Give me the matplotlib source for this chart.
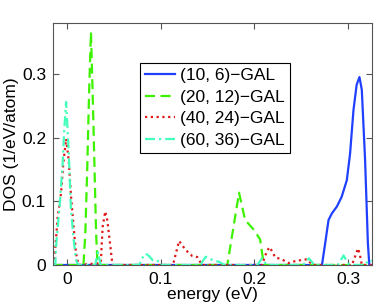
import numpy as np
import matplotlib
matplotlib.use('Agg')
import matplotlib.pyplot as plt
from matplotlib.ticker import FormatStrFormatter

plt.rcParams['font.family'] = ['Liberation Sans', 'DejaVu Sans']
plt.rcParams['font.size'] = 12.5

# (10, 6)-GAL
e_10 = [-0.015, 0.272, 0.2755, 0.279, 0.2826, 0.288, 0.293, 0.2985, 0.302,
        0.3056, 0.309, 0.312, 0.3145, 0.318, 0.321, 0.3225, 0.325]
d_10 = [0, 0, 0.035, 0.0706, 0.081, 0.092, 0.107, 0.133, 0.175,
        0.243, 0.283, 0.295, 0.275, 0.165, 0.034, 0, 0]

# (20, 12)-GAL
e_20 = [-0.015, 0.0175, 0.0195, 0.0215, 0.0235, 0.0255, 0.0275, 0.0295, 0.031,
        0.0325, 0.171, 0.1835, 0.190, 0.1995, 0.206, 0.210, 0.325]
d_20 = [0, 0, 0.05, 0.15, 0.27, 0.366, 0.26, 0.14, 0.05,
        0, 0, 0.1135, 0.0706, 0.055, 0.040, 0, 0]

# (40, 24)-GAL
e_40 = [-0.015, -0.0135, -0.010, -0.0064, -0.004, -0.001, 0.0017, 0.0043, 0.0067,
        0.0096, 0.0123, 0.036, 0.038, 0.0407, 0.043, 0.0485, 0.113, 0.1195,
        0.1266, 0.1337, 0.139, 0.144, 0.208, 0.213, 0.216, 0.219, 0.222, 0.229,
        0.2365, 0.240, 0.2507, 0.256, 0.262, 0.304, 0.308, 0.3105, 0.3125,
        0.3145, 0.325]
d_40 = [0, 0.008, 0.076, 0.1125, 0.16, 0.198, 0.165, 0.107, 0.065,
        0.018, 0, 0.003, 0.06, 0.084, 0.07, 0, 0, 0.0377,
        0.0235, 0.014, 0.0125, 0, 0, 0.021, 0.028, 0.021, 0.012, 0.009,
        0.003, 0.005, 0.008, 0.009, 0, 0, 0.016, 0.026, 0.016,
        0, 0]

# (60, 36)-GAL
e_60 = [-0.015, -0.0125, -0.0117, -0.008, -0.0047, -0.003, -0.001, 0.0017, 0.004,
        0.0067, 0.0096, 0.012, 0.030, 0.033, 0.036, 0.077, 0.080, 0.084,
        0.0875, 0.091, 0.096, 0.100, 0.142, 0.148, 0.155, 0.162, 0.168, 0.203,
        0.208, 0.213, 0.252, 0.258, 0.264, 0.289, 0.295, 0.301, 0.318, 0.322,
        0.325]
d_60 = [0, 0, 0.029, 0.0915, 0.16, 0.212, 0.256, 0.18, 0.0915,
        0.044, 0.008, 0, 0, 0.02, 0, 0, 0.0105, 0.018,
        0.014, 0.008, 0.008, 0, 0, 0.013, 0.008, 0.005, 0, 0,
        0.0105, 0, 0, 0.0105, 0, 0, 0.015, 0, 0, 0.008,
        0.006]

labels = ['(10, 6)\u2212GAL', '(20, 12)\u2212GAL', '(40, 24)\u2212GAL', '(60, 36)\u2212GAL']

fig = plt.figure(figsize=(3.74, 3.08), dpi=100)
ax = fig.add_axes([0.1417, 0.1396, 0.852, 0.786])

lw = 1.6
ax.plot(e_10, d_10, color='#2040ff', linestyle='-', linewidth=lw, label=labels[0])
ax.plot(e_20, d_20, color='#3cf200', linestyle=(0, (4.5, 2.5)), linewidth=lw, label=labels[1])
ax.plot(e_40, d_40, color='#e01818', linestyle=(0, (1, 1.6)), linewidth=lw, label=labels[2])
ax.plot(e_60, d_60, color='#44ffbb', linestyle=(0, (4.5, 1.8, 1, 1.8)), linewidth=lw, label=labels[3])

ax.set_xlim(-0.015, 0.325)
ax.set_ylim(0, 0.38)
ax.set_xticks([0, 0.1, 0.2, 0.3])
ax.set_yticks([0, 0.1, 0.2, 0.3])
ax.xaxis.set_major_formatter(FormatStrFormatter('%g'))
ax.yaxis.set_major_formatter(FormatStrFormatter('%g'))
ax.tick_params(direction='in', top=True, right=True, length=4, width=0.8,
               color='#555555', labelsize=12.5)
ax.tick_params(axis='x', pad=5)
ax.tick_params(axis='y', pad=5)
for s in ax.spines.values():
    s.set_color('#555555')
    s.set_linewidth(0.8)

ax.set_xlabel('energy (eV)', fontsize=12.5, labelpad=0)
ax.set_ylabel('DOS (1/eV/atom)', fontsize=12.5, labelpad=2)

leg = ax.legend(loc='upper left', bbox_to_anchor=(0.273, 0.836), fontsize=12.5,
                handlelength=1.7, handletextpad=0.3, labelspacing=0.38,
                borderpad=0.3, borderaxespad=0, fancybox=False, framealpha=1)
leg.get_frame().set_edgecolor('black')
leg.get_frame().set_linewidth(0.8)

fig.savefig('out.png', dpi=100)
